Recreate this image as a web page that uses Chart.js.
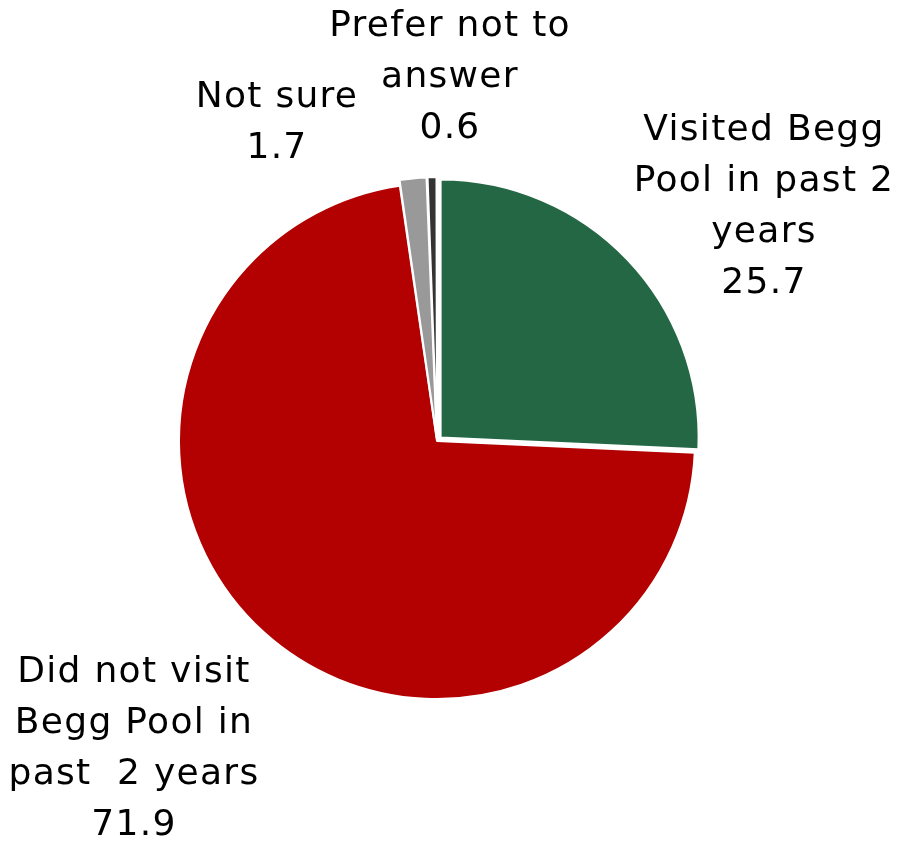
<!DOCTYPE html>
<html>
<head>
<meta charset="utf-8">
<script src="https://cdn.jsdelivr.net/npm/chart.js"></script>
<style>
  html, body { margin: 0; padding: 0; background: #ffffff; }
  #wrap { width: 899px; height: 844px; position: relative; }
</style>
</head>
<body>
<div id="wrap"><canvas id="c" width="899" height="844"></canvas></div>
<script>
const categories = [
  "Visited Begg Pool in past 2 years",
  "Did not visit Begg Pool in past  2 years",
  "Not sure",
  "Prefer not to answer"
];
const values = [25.7, 71.9, 1.7, 0.6];
const labelLines = [
  ["Visited Begg", "Pool in past 2", "years"],
  ["Did not visit", "Begg Pool in", "past  2 years"],
  ["Not sure"],
  ["Prefer not to", "answer"]
];
const valueLabels = ["25.7", "71.9", "1.7", "0.6"];
const colors = ["#236744", "#B30000", "#999999", "#333333"];
// Chart.js v4 draws an arc's offset at one quarter of this value
const sliceOffsets = [20, 0, 12, 12];

// label layout (center x, first line center y)
const labelPos = [
  { x: 764, y: 131 },
  { x: 134, y: 673 },
  { x: 277, y: 98 },
  { x: 450, y: 27 }
];

const labelPlugin = {
  id: 'sliceLabels',
  afterDraw(chart) {
    const ctx = chart.ctx;
    ctx.save();
    ctx.font = '36px "DejaVu Sans"';
    ctx.fillStyle = '#000000';
    ctx.textAlign = 'center';
    ctx.textBaseline = 'middle';
    if ('letterSpacing' in ctx) ctx.letterSpacing = '1.3px';
    const lh = 51;
    values.forEach((v, i) => {
      const lines = labelLines[i].concat([valueLabels[i]]);
      lines.forEach((t, j) => {
        ctx.fillText(t, labelPos[i].x, labelPos[i].y + j * lh);
      });
    });
    ctx.restore();
  }
};

new Chart(document.getElementById('c'), {
  type: 'pie',
  data: {
    labels: categories,
    datasets: [{
      data: values,
      backgroundColor: colors,
      borderColor: '#ffffff',
      borderWidth: 2,
      offset: sliceOffsets
    }]
  },
  options: {
    responsive: false,
    animation: false,
    radius: 258,
    layout: { padding: { left: 0, right: 25, top: 38, bottom: 0 } },
    plugins: {
      legend: { display: false },
      tooltip: { enabled: false }
    }
  },
  plugins: [labelPlugin]
});
</script>
</body>
</html>
